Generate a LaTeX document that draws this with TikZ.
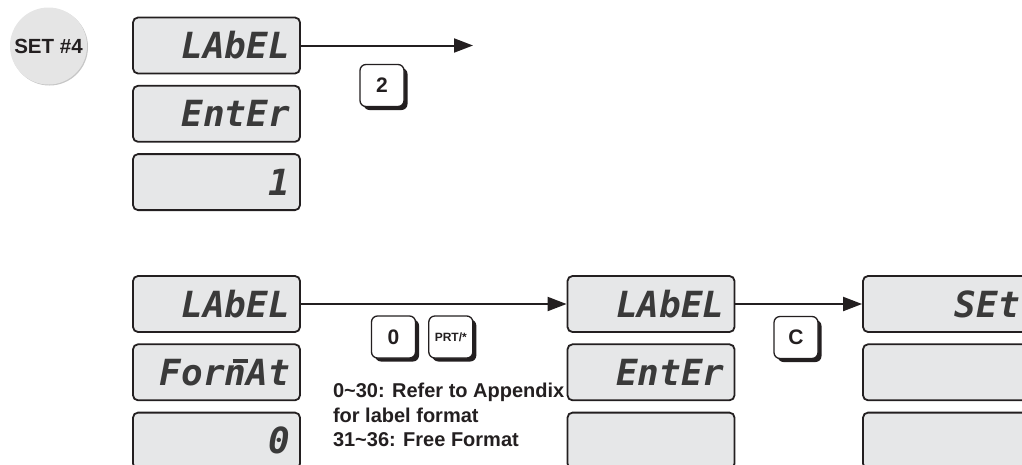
\documentclass[tikz,border=0pt]{standalone}
\usepackage{fontspec}
\setmainfont{Liberation Sans}
\newfontfamily\segfont{DejaVu Sans Mono}
\usepackage{tikz}
\usetikzlibrary{arrows.meta,positioning,shadows}
\definecolor{lcd}{HTML}{E6E7E8}
\definecolor{seg}{HTML}{3A3A3A}
\definecolor{ink}{HTML}{231F20}
% top segment over a lower-case letter
\newcommand\segbar[1]{\leavevmode\rlap{\kern0.21em\rule[0.61em]{0.44em}{0.11em}}#1}
\tikzset{every picture/.style={line width=2pt}}
\tikzset{
  display/.style={draw=ink, line width=1.8pt, fill=lcd, rounded corners=5pt,
    minimum height=56pt, text width=147pt, inner xsep=10pt, align=right,
    font=\segfont\bfseries\itshape\fontsize{36}{36}\selectfont, text=seg},
  key/.style={draw=ink, line width=1.3pt, fill=white, rounded corners=6pt,
    minimum width=44pt, minimum height=42pt, inner sep=0pt,
    font=\bfseries\fontsize{21}{21}\selectfont, text=ink,
    general shadow={fill=ink, shadow xshift=3.5pt, shadow yshift=-3.5pt}},
  flow/.style={-{Triangle[length=19pt,width=14pt]}, draw=ink, line width=2pt}
}

\begin{document}
\begin{tikzpicture}[x=1pt, y=-1pt]
    \useasboundingbox (0,0) rectangle (1022,464);
    \clip (0,0) rectangle (1022,464);
    \node[circle, fill=black!10, minimum size=77pt, inner sep=0pt, text=ink,
          general shadow={fill=black!22, shadow xshift=1pt, shadow yshift=-1pt},
          font=\bfseries\fontsize{20.5}{20.5}\selectfont] (set) at (48.5,46) {SET \#4};
    % first menu
    \node[display] (a1) at (216.5,45.5) {LAbEL};
    \node[display, below=10.5pt of a1] (a2) {EntEr};
    \node[display, below=10.5pt of a2] (a3) {1};
    \coordinate (a4) at (473,45.5);
    \draw[flow] (a1) -- (a4);
    \node[key] (k2) at (382,85.5) {2};
    % second menu
    \node[display] (b1) at (216.5,304) {LAbEL};
    \node[display, below=10.5pt of b1] (b2) {For\segbar{n}At};
    \node[display, below=10.5pt of b2] (b3) {0};
    \node[display] (c1) at (651,304) {LAbEL};
    \node[display, below=10.5pt of c1] (c2) {EntEr};
    \node[display, below=10.5pt of c2] (c3) {};
    \node[display] (d1) at (946.5,304) {SEt};
    \node[display, below=10.5pt of d1] (d2) {};
    \node[display, below=10.5pt of d2] (d3) {};
    \draw[flow] (b1) -- (c1);
    \draw[flow] (c1) -- (d1);
    \node[key] (k0) at (393.5,337) {0};
    \node[key, right=12pt of k0, font=\bfseries\fontsize{12}{12}\selectfont] (kp) {PRT/*};
    \node[key] (kc) at (796,337.5) {C};
    \node[anchor=north west, align=left, inner sep=0pt, text=ink,
          font=\bfseries\fontsize{20}{24.5}\selectfont] (note) at (332,382)
        {0\textasciitilde 30: Refer to Appendix\\for label format\\31\textasciitilde 36: Free Format};
\end{tikzpicture}
\end{document}
